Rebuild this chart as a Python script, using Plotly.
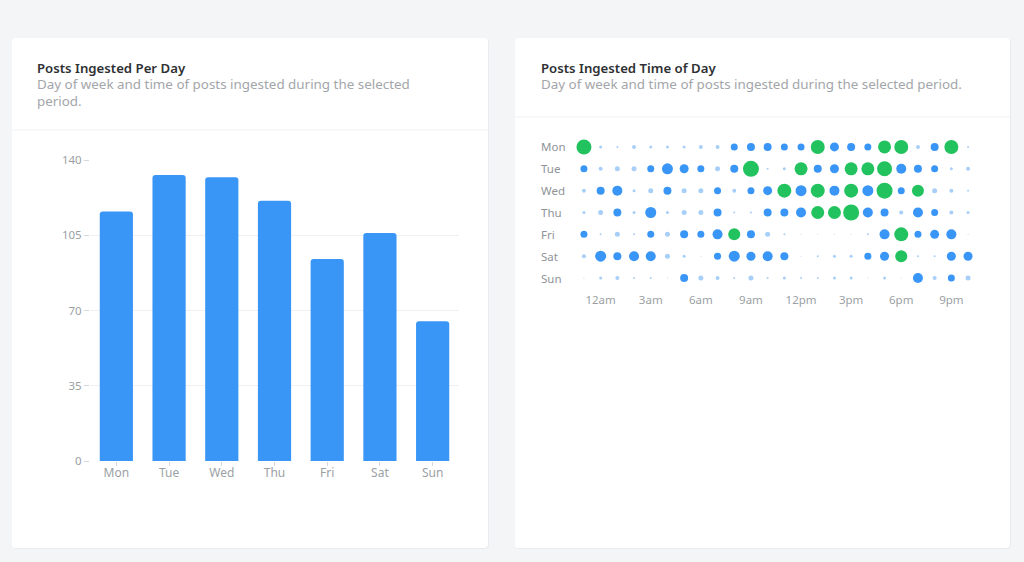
import plotly.graph_objects as go

W, H = 1024, 562

# ---- data ----
days = ["Mon", "Tue", "Wed", "Thu", "Fri", "Sat", "Sun"]
posts_per_day = [116, 133, 132, 121, 94, 106, 65]

hour_ticks = [1, 4, 7, 10, 13, 16, 19, 22]
hour_labels = ["12am", "3am", "6am", "9am", "12pm", "3pm", "6pm", "9pm"]

# posts per hour slot (24 slots per day)
mon = [15, 3, 2, 4, 3, 3, 3, 4, 4, 7, 8, 8, 7, 7, 14, 9, 8, 7, 13, 14, 4, 8, 14, 2]
tue = [7, 4, 5, 5, 7, 11, 9, 7, 5, 8, 16, 2, 3, 13, 8, 9, 13, 13, 15, 10, 8, 7, 3, 4]
wed = [4, 8, 10, 3, 5, 8, 5, 5, 7, 4, 7, 9, 14, 11, 14, 10, 14, 11, 16, 7, 12, 5, 4, 2]
thu = [3, 5, 8, 3, 11, 3, 5, 5, 8, 2, 2, 8, 8, 10, 13, 13, 16, 10, 8, 4, 10, 7, 4, 3]
fri = [7, 2, 5, 2, 7, 5, 8, 7, 10, 12, 8, 5, 2, 1, 1, 1, 1, 2, 10, 14, 7, 9, 10, 1]
sat = [4, 11, 8, 10, 10, 5, 3, 1, 7, 11, 9, 10, 8, 1, 2, 3, 3, 7, 9, 12, 2, 2, 9, 9]
sun = [1, 3, 4, 2, 2, 1, 8, 5, 4, 2, 5, 2, 3, 2, 2, 3, 3, 1, 3, 1, 10, 4, 7, 5]
hourly = [mon, tue, wed, thu, fri, sat, sun]

# ---- styling ----
FONT = "Noto Sans"
BG = "#f3f5f7"
BLUE = "#3a96f6"
LIGHT = "#a8cff8"
GREEN = "#22c35e"
GRID = "#eef0f2"
TICK = "#9b9fa4"


def px(x):
    return x / W


def py(y):
    return 1 - y / H


def card(x0, y0, x1, y1, r=4, color="white"):
    # rounded rectangle in paper coords (pixels converted)
    path = (
        f"M {px(x0 + r)},{py(y0)} L {px(x1 - r)},{py(y0)} "
        f"Q {px(x1)},{py(y0)} {px(x1)},{py(y0 + r)} "
        f"L {px(x1)},{py(y1 - r)} Q {px(x1)},{py(y1)} {px(x1 - r)},{py(y1)} "
        f"L {px(x0 + r)},{py(y1)} Q {px(x0)},{py(y1)} {px(x0)},{py(y1 - r)} "
        f"L {px(x0)},{py(y0 + r)} Q {px(x0)},{py(y0)} {px(x0 + r)},{py(y0)} Z"
    )
    return dict(type="path", xref="paper", yref="paper", path=path,
                fillcolor=color, line=dict(width=0), layer="below")


fig = go.Figure()

# bar chart
fig.add_trace(go.Bar(
    x=days, y=posts_per_day, marker=dict(color=BLUE, line=dict(width=0)),
    xaxis="x", yaxis="y", hoverinfo="x+y",
))

# punch card
xs, ys, vals = [], [], []
for d, row in zip(days, hourly):
    for h, v in enumerate(row):
        xs.append(h)
        ys.append(d)
        vals.append(v)

fig.add_trace(go.Scatter(
    x=xs, y=ys, mode="markers", xaxis="x2", yaxis="y2",
    marker=dict(
        size=[v * 1.0 for v in vals],
        color=vals, cmin=0, cmax=16,
        colorscale=[[0, LIGHT], [0.34, LIGHT], [0.34, BLUE], [0.72, BLUE],
                    [0.72, GREEN], [1, GREEN]],
        line=dict(width=0), opacity=1,
    ),
    hoverinfo="x+y",
))

shapes = [
    card(13, 39, 489, 549, color="#e9ecef"),
    card(12, 38, 488, 548),
    card(516, 39, 1011, 549, color="#e9ecef"),
    card(515, 38, 1010, 548),
    dict(type="line", xref="paper", yref="paper", x0=px(12), x1=px(488),
         y0=py(130), y1=py(130), line=dict(color="#eef1f3", width=1)),
    dict(type="line", xref="paper", yref="paper", x0=px(515), x1=px(1010),
         y0=py(117), y1=py(117), line=dict(color="#eef1f3", width=1)),
]

SUB = dict(size=13.4, color="#a3a6aa", family=FONT)
HEAD = dict(size=13.2, color="#2e3033", family=FONT, weight=600)
annotations = [
    dict(text="Posts Ingested Per Day", x=px(35), y=py(67.5), font=HEAD),
    dict(text="Day of week and time of posts ingested during the selected", x=px(35), y=py(84), font=SUB),
    dict(text="period.", x=px(35), y=py(100.5), font=SUB),
    dict(text="Posts Ingested Time of Day", x=px(539), y=py(67.5), font=HEAD),
    dict(text="Day of week and time of posts ingested during the selected period.", x=px(539), y=py(84), font=SUB),
]
for a in annotations:
    a.update(xref="paper", yref="paper", xanchor="left", yanchor="middle", showarrow=False)

# day labels of the punch card, left aligned
for d in days:
    annotations.append(dict(
        text=d, x=px(539), y=d, xref="paper", yref="y2", xanchor="left",
        yanchor="middle", showarrow=False, font=dict(size=11.5, color="#8f9397", family=FONT),
    ))

fig.update_layout(
    width=W, height=H,
    margin=dict(l=0, r=0, t=0, b=0, pad=0, autoexpand=False),
    paper_bgcolor=BG, plot_bgcolor="rgba(0,0,0,0)",
    showlegend=False,
    bargap=0.37, barcornerradius=3,
    font=dict(family=FONT, color=TICK, size=11),
    shapes=shapes,
    annotations=annotations,
    xaxis=dict(
        domain=[px(90), px(459)], showgrid=False, showline=False, zeroline=False,
        ticks="outside", ticklen=4, tickcolor="#d5d8db", tickfont=dict(size=12, color=TICK),
        ticklabelstandoff=-3, fixedrange=True, automargin=False,
    ),
    yaxis=dict(
        domain=[py(461), py(160)], range=[0, 140], tickvals=[0, 35, 70, 105, 140],
        showgrid=True, gridcolor=GRID, gridwidth=1, zeroline=False, showline=False,
        ticks="outside", ticklen=5, tickcolor="#d5d8db", tickfont=dict(size=11.5, color=TICK),
        fixedrange=True, automargin=False,
    ),
    xaxis2=dict(
        domain=[px(575.6), px(976.4)], range=[-0.5, 23.5], tickvals=hour_ticks,
        ticktext=hour_labels, showgrid=False, zeroline=False, showline=False,
        tickfont=dict(size=11.5, color=TICK), fixedrange=True, anchor="y2",
        ticklabelstandoff=2, automargin=False,
    ),
    yaxis2=dict(
        domain=[py(289), py(136)], range=[6.5, -0.5], type="category",
        categoryorder="array", categoryarray=days,
        showticklabels=False, showgrid=False, zeroline=False, showline=False,
        fixedrange=True, anchor="x2", automargin=False,
    ),
)

# drop the browser's default page margin so the figure sits at the window corner
fig.write_html(
    "out.html",
    config={"displayModeBar": False},
    post_script="document.body.style.margin='0';document.body.style.overflow='hidden';",
)
